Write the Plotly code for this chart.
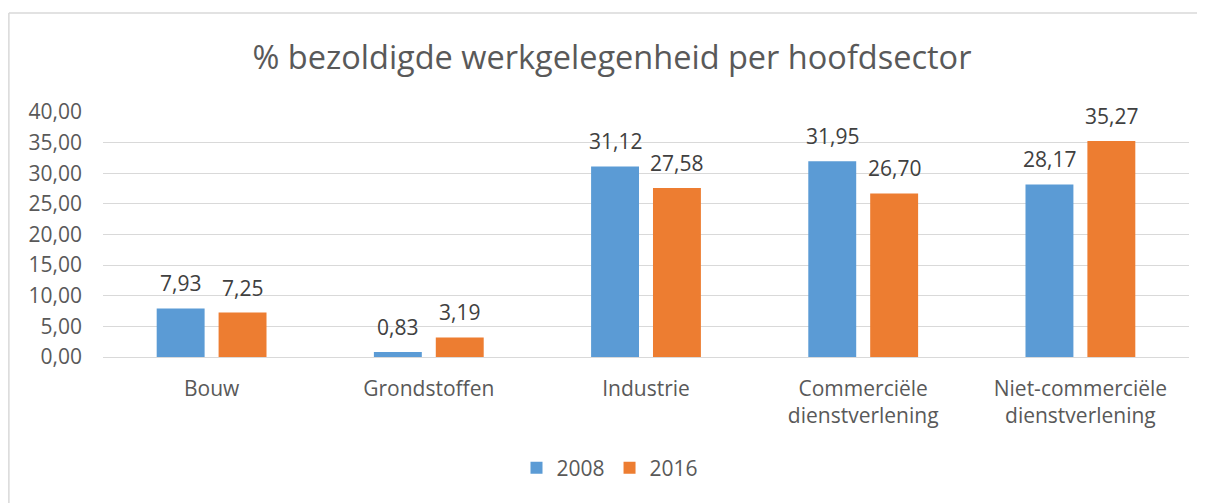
import plotly.graph_objects as go

categories = ["Bouw", "Grondstoffen", "Industrie", "Commerciële<br>dienstverlening", "Niet-commerciële<br>dienstverlening"]
series_names = ["2008", "2016"]
values_2008 = [7.93, 0.83, 31.12, 31.95, 28.17]
values_2016 = [7.25, 3.19, 27.58, 26.70, 35.27]
tick_vals = [0, 5, 10, 15, 20, 25, 30, 35, 40]
tick_text = ["0,00", "5,00", "10,00", "15,00", "20,00", "25,00", "30,00", "35,00", "40,00"]
colors = ["#5B9BD5", "#ED7D31"]

FONT = "'Open Sans', 'Noto Sans', sans-serif"
OFF = 8  # page body margin offset

def fmt(v):
    return f"{v:.2f}".replace(".", ",")

PW, PH = 1205, 503           # page (window) size
W, H = PW - OFF, PH - OFF    # figure size so it fits the viewport
ml, mt = 103 - OFF, 112 - OFF
mr = PW - 1189
mb = PH - 357
pw = W - ml - mr
ph = H - mt - mb

bargap = 0.43
groupgap = 0.226

fig = go.Figure()
for name, vals, col in zip(series_names, [values_2008, values_2016], colors):
    fig.add_trace(go.Bar(
        x=categories, y=vals, name=name,
        marker=dict(color=col, line=dict(width=0)),
    ))

# data labels
slot = (1 - bargap) / 2
for i, vals in enumerate([values_2008, values_2016]):
    dx = (i - 0.5) * slot
    for j, v in enumerate(vals):
        fig.add_annotation(x=j + dx, y=v, xref="x", yref="y", text=fmt(v),
                           showarrow=False, yanchor="bottom", yshift=9,
                           font=dict(size=21, color="#404040", family=FONT))

fig.update_layout(
    width=W, height=H,
    margin=dict(l=ml, r=mr, t=mt, b=mb),
    paper_bgcolor="white", plot_bgcolor="white",
    barmode="group", bargap=bargap, bargroupgap=groupgap,
    title=dict(text="% bezoldigde werkgelegenheid per hoofdsector",
               x=(612 - OFF) / W, xanchor="center", y=1 - (58 - OFF) / H, yanchor="middle",
               font=dict(size=32.5, color="#595959", family=FONT)),
    font=dict(family=FONT, color="#595959"),
    legend=dict(orientation="h", x=(610 - OFF) / W, xref="container",
                xanchor="center", y=1 - (468 - OFF) / H, yref="container", yanchor="middle",
                font=dict(size=21, color="#595959", family=FONT),
                traceorder="normal"),
    yaxis=dict(range=[0, 40], tickvals=tick_vals, ticktext=tick_text,
               showgrid=True, gridcolor="#D9D9D9", gridwidth=1.3,
               zeroline=True, zerolinecolor="#D9D9D9", zerolinewidth=1.3,
               showline=False, ticks="", ticklen=0, ticklabelstandoff=20,
               tickfont=dict(size=21, color="#595959", family=FONT)),
    xaxis=dict(showline=False, ticks="", showgrid=False, ticklabelstandoff=17,
               tickfont=dict(size=21, color="#595959", family=FONT)),
    showlegend=True,
)

# chart frame: top and left edges only (rest lies outside the view)
x_left = (8 - OFF - ml) / pw + 0.0008
y_top = (H - mb - (13 - OFF)) / ph
fig.add_shape(type="line", xref="paper", yref="paper",
              x0=x_left, x1=(W - ml) / pw, y0=y_top, y1=y_top,
              line=dict(color="#D9D9D9", width=1.5), layer="below")
fig.add_shape(type="line", xref="paper", yref="paper",
              x0=x_left, x1=x_left, y0=y_top, y1=-mb / ph,
              line=dict(color="#D9D9D9", width=1.5), layer="below")

fig.write_html("out.html", post_script="document.documentElement.style.overflow='hidden';document.body.style.overflow='hidden';")
